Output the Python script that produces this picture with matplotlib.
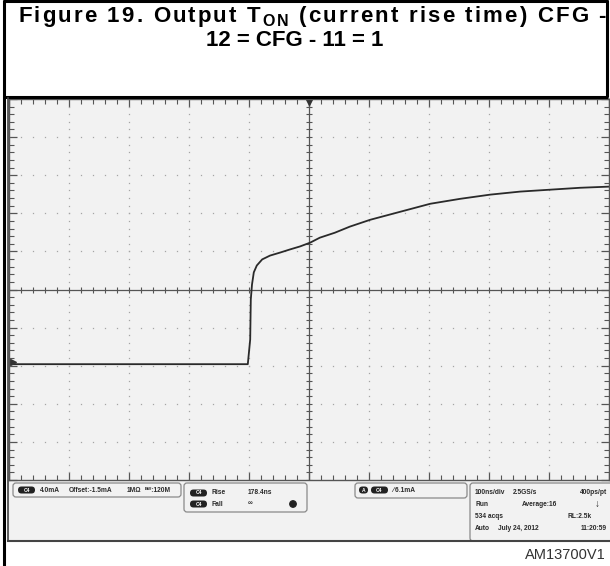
import numpy as np
import matplotlib
matplotlib.use("Agg")
import matplotlib.pyplot as plt
from matplotlib.patches import Rectangle, FancyBboxPatch
from matplotlib.font_manager import findfont, FontProperties
from matplotlib.ft2font import FT2Font

plt.rcParams['font.family'] = ['Liberation Sans', 'DejaVu Sans']

# ---- data (100 ns/div, level in divisions) ----
t_ns = np.array([-500, -102, -98, -97, -95, -92, -87, -78, -65, -48, -32, -15,
                 2, 18, 43, 68, 102, 152, 202, 252, 302, 352, 402, 452, 500])
level_div = np.array([-1.96, -1.96, -1.31, -0.26, 0.13, 0.45, 0.63, 0.79, 0.89,
                      0.97, 1.05, 1.13, 1.23, 1.36, 1.49, 1.65, 1.83, 2.04,
                      2.25, 2.38, 2.49, 2.57, 2.62, 2.67, 2.70])
ns_per_div = 100.0

# title: (text, subscript) pieces; first line is spread across the box
title_line1 = [("Figure 19. Output T", False), ("ON", True),
               (" (current rise time) CFG -", False)]
title_line2 = "12 = CFG - 11 = 1"
code_label = "AM13700V1"

ch_text = ["4.0mA", "Offset:-1.5mA", "1M\u03a9", "\u1d2e\u1d42:120M"]
meas_rows = [("Rise", "178.4ns"), ("Fall", "\u221e")]
trig_text = "\u2215 6.1mA"
acq_rows = [("100ns/div", "2.5GS/s", "400ps/pt"),
            ("Run", "Average:16", "\u2193"),
            ("534 acqs", "", "RL:2.5k"),
            ("Auto", "July 24, 2012", "11:20:59")]

W, H = 610, 566
fig = plt.figure(figsize=(W / 100, H / 100), dpi=100)

# background layer in pixel coords
bg = fig.add_axes([0, 0, 1, 1], zorder=0)
bg.set_xlim(0, W)
bg.set_ylim(H, 0)
bg.axis('off')
bg.add_patch(Rectangle((8, 98), 604, 443, facecolor='#f2f2f2',
                       edgecolor='none'))

# ---- graticule ----
GX0, GX1, GY0, GY1 = 9, 609, 99, 480
ax = fig.add_axes([GX0 / W, (H - GY1) / H, (GX1 - GX0) / W, (GY1 - GY0) / H],
                  zorder=1)
ax.set_facecolor('#f2f2f2')
ax.set_xlim(-5, 5)
ax.set_ylim(-5, 5)
for s in ax.spines.values():
    s.set_color('#555555')
    s.set_linewidth(1.0)
ax.set_xticks(np.arange(-5, 6, 1))
ax.set_yticks(np.arange(-5, 6, 1))
ax.set_xticks(np.arange(-5, 5.01, 0.2), minor=True)
ax.set_yticks(np.arange(-5, 5.01, 0.2), minor=True)
ax.tick_params(which='both', direction='in', top=True, right=True,
               labelbottom=False, labelleft=False, color='#555555')
ax.tick_params(which='major', length=6, width=0.9)
ax.tick_params(which='minor', length=3.5, width=0.8)

fine = np.arange(-5, 5.01, 0.2)
for k in range(-4, 5):
    if k == 0:
        continue
    ax.plot(np.full_like(fine, k), fine, ls='none', marker='s', ms=0.9,
            mec='none', mfc='#a5a5a5')
    ax.plot(fine, np.full_like(fine, k), ls='none', marker='s', ms=0.9,
            mec='none', mfc='#a5a5a5')

ax.axhline(0, color='#555555', lw=0.9)
ax.axvline(0, color='#555555', lw=0.9)
ax.plot(fine, np.zeros_like(fine), ls='none', marker='|', ms=4,
        mew=0.8, color='#555555')
ax.plot(np.zeros_like(fine), fine, ls='none', marker='_', ms=4,
        mew=0.8, color='#555555')

# trace
ax.plot(t_ns / ns_per_div, level_div, color='#2a2a2a', lw=1.3,
        solid_joinstyle='round')

# trigger position and channel ground markers
ax.plot(0, 4.93, marker='v', ms=5, color='#333333', clip_on=False)
ax.plot(-4.93, level_div[0] + 0.05, marker='>', ms=4, color='#333333',
        clip_on=False)

# ---- overlay: frame, title, status bar ----
ov = fig.add_axes([0, 0, 1, 1], zorder=2)
ov.set_xlim(0, W)
ov.set_ylim(H, 0)
ov.axis('off')
ov.patch.set_alpha(0)

k = dict(color='black', lw=2.2, solid_capstyle='butt')
ov.plot([4, 4], [0, H], **k)
ov.plot([3, 608], [1, 1], **k)
ov.plot([607, 607], [0, 97], **k)
ov.plot([3, 608], [97, 97], **k)
ov.plot([8, 8], [98, 541], color='#444444', lw=1.2)

# title line 1 glyph by glyph so it fills the box width
TFS = 16.0
bold_path = findfont(FontProperties(family='Liberation Sans', weight='bold'))
ft = FT2Font(bold_path)


def advance(ch, size):
    ft.set_size(size, 100)
    g = ft.load_char(ord(ch))
    return g.linearHoriAdvance / 65536.0


def glyph_line(pieces, y, x0, x1):
    glyphs = []
    for txt, sub in pieces:
        size = TFS * 0.72 if sub else TFS
        dy = 4.5 if sub else 0
        for ch in txt:
            glyphs.append((ch, size, dy))
    adv = [advance(c, s) for c, s, _ in glyphs]
    extra = (x1 - x0 - sum(adv)) / (len(glyphs) - 1)
    x = x0
    for (ch, s, dy), a in zip(glyphs, adv):
        if ch != ' ':
            ov.text(x, y + dy, ch, ha='left', va='baseline', fontsize=s,
                    fontweight='bold', color='black')
        x += a + extra


glyph_line(title_line1, 22, 18, 606)
ov.text(295, 46, title_line2, ha='center', va='baseline', fontsize=TFS,
        fontweight='bold', color='black')

ov.text(606, 559, code_label, ha='right', va='baseline', fontsize=10.5,
        color='#333333')


def box(x, y, w, h):
    ov.add_patch(FancyBboxPatch((x, y), w, h,
                                boxstyle="round,pad=0,rounding_size=3",
                                facecolor='#f2f2f2', edgecolor='#8a8a8a',
                                lw=0.9))


def badge(x, y, label='C4', w=17):
    ov.add_patch(FancyBboxPatch((x, y - 3.5), w, 7,
                                boxstyle="round,pad=0,rounding_size=3.5",
                                facecolor='#222222', edgecolor='none'))
    ov.text(x + w / 2, y, label, ha='center', va='center', fontsize=3.6,
            color='white', fontweight='bold')


st = dict(fontsize=4.8, color='#2a2a2a', va='center', fontweight='bold')

# channel box
box(13, 483, 168, 14)
badge(18, 490)
ov.text(40, 490, ch_text[0], **st)
ov.text(69, 490, ch_text[1], **st)
ov.text(127, 490, ch_text[2], **st)
ov.text(145, 490, ch_text[3], **st)

# measurement box
box(184, 483, 123, 29)
for i, (name, val) in enumerate(meas_rows):
    yy = 493 + i * 11
    badge(190, yy)
    ov.text(211, yy, name, **st)
    ov.text(248, yy, val, **st)
ov.add_patch(plt.Circle((293, 504), 3.2, color='#222222'))

# trigger box
box(355, 483, 112, 15)
badge(359, 490, 'A', w=9)
badge(371, 490)
ov.text(392, 490, trig_text, **st)

# acquisition panel
box(470, 483, 150, 58)
row_y = [492, 504, 516, 528]
cols_by_row = [[475, 513, 607], [475, 522, 600], [475, 0, 592], [475, 498, 607]]
for r, row in enumerate(acq_rows):
    for c, txt in enumerate(row):
        if not txt:
            continue
        xx = cols_by_row[r][c]
        ha = 'right' if c == 2 else 'left'
        size = 7 if txt == "\u2193" else st['fontsize']
        ov.text(xx, row_y[r], txt, ha=ha, va='center', fontsize=size,
                color='#2a2a2a', fontweight='bold')
ov.plot([8, 610], [541, 541], color='#444444', lw=1.5)

fig.savefig("out.png", dpi=100)
